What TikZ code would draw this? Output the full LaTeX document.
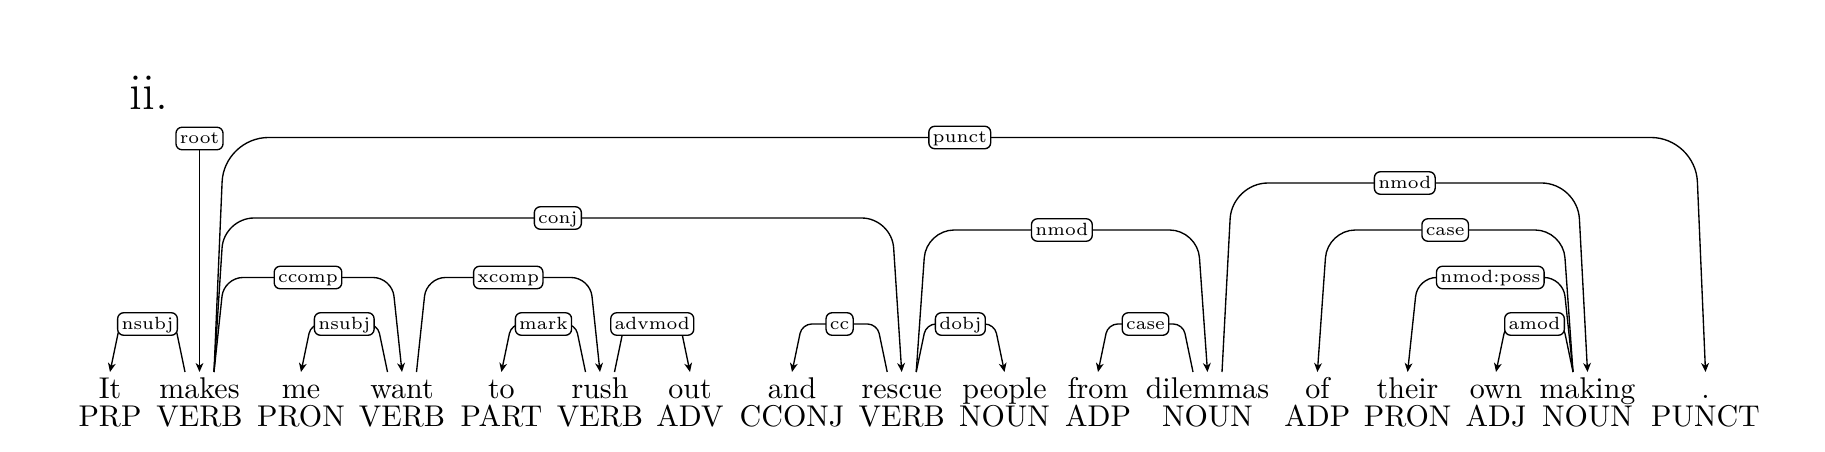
\documentclass[tikz,border=0pt]{standalone}
\usetikzlibrary{calc,arrows.meta}
\newcommand\depedge[7]{% #1 head, #2 head offset (px), #3 dependent, #4 level, #5 corner radius, #6 label, #7 direction
  \draw[dep, rounded corners=#5] let \p1=($(#1)+({#2},0)$), \p2=($(#1)+({#2+(#7)*10},0)$), \p3=(#4),
      \p4=($(#3)+({-(#7)*10},0)$), \p5=(#3) in
    (\p1) -- (\x2,\y3) -- (\x4,\y3) -- (\p5)
    node[lab] at ({(\x1+\x5)/2},\y3) {#6};
}
\begin{document}
\begin{tikzpicture}[x=0.333333pt,y=-0.333333pt,
  dep/.style={line width=0.45pt, -{Stealth[length=3pt,width=2.6pt,inset=0.9pt]}},
  lab/.style={draw, line width=0.45pt, rounded corners=2pt, fill=white, font=\fontsize{5.9}{7}\selectfont,
    inner xsep=1.3pt, inner ysep=0.75pt, text height=4.7pt, text depth=1.3pt},
  word/.style={anchor=base, inner sep=0pt},
  tag/.style={anchor=base, inner sep=0pt}]
\useasboundingbox (0,0) rectangle (1825,452);
\node[anchor=base west, inner sep=0pt, font=\LARGE] (title) at (129,110) {ii.};
\foreach \n/\x/\w/\t in {1/110/It/PRP, 2/199.5/makes/VERB, 3/301/me/PRON, 4/402/want/VERB,
  5/501.4/to/PART, 6/600/rush/VERB, 7/690/out/ADV, 8/792/and/CCONJ, 9/901.7/rescue/VERB,
  10/1004.5/people/NOUN, 11/1098/from/ADP, 12/1207.5/dilemmas/NOUN, 13/1317.4/of/ADP,
  14/1407.6/their/PRON, 15/1496/own/ADJ, 16/1587.5/making/NOUN, 17/1705.5/./PUNCT}{
  \node[word] (w\n) at (\x,398) {\w};
  \node[tag] (p\n) at (\x,426) {\t};
  \coordinate (t\n) at (\x,372);
}
\coordinate (L1) at (0,324);
\coordinate (L2) at (0,277.5);
\coordinate (L3) at (0,230);
\coordinate (L4) at (0,183);
\coordinate (L5) at (0,137.5);
\coordinate (Lc) at (0,218);
\node[lab] (rootlab) at (199.5,138.5) {root};
\draw[dep] (rootlab) -- (t2);
\depedge{t2}{-14.5}{t1}{L1}{3.2pt}{nsubj}{-1}
\depedge{t2}{14.5}{t4}{L2}{6.3pt}{ccomp}{1}
\depedge{t2}{14.5}{t9}{Lc}{10pt}{conj}{1}
\depedge{t2}{14.5}{t17}{L5}{14.8pt}{punct}{1}
\depedge{t4}{-14.5}{t3}{L1}{3.2pt}{nsubj}{-1}
\depedge{t4}{14.5}{t6}{L2}{6.3pt}{xcomp}{1}
\depedge{t6}{-14.5}{t5}{L1}{3.2pt}{mark}{-1}
\depedge{t6}{14.5}{t7}{L1}{3.2pt}{advmod}{1}
\depedge{t9}{-14.5}{t8}{L1}{3.2pt}{cc}{-1}
\depedge{t9}{14.5}{t10}{L1}{3.2pt}{dobj}{1}
\depedge{t9}{14.5}{t12}{L3}{9.3pt}{nmod}{1}
\depedge{t12}{-14.5}{t11}{L1}{3.2pt}{case}{-1}
\depedge{t12}{14.5}{t16}{L4}{12pt}{nmod}{1}
\depedge{t16}{-14.5}{t13}{L3}{9.3pt}{case}{-1}
\depedge{t16}{-14.5}{t14}{L2}{6.3pt}{nmod:poss}{-1}
\depedge{t16}{-14.5}{t15}{L1}{3.2pt}{amod}{-1}
\end{tikzpicture}
\end{document}
